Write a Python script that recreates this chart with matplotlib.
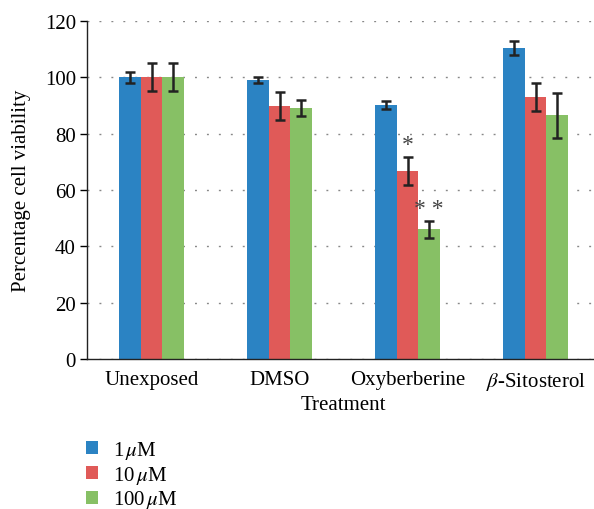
import matplotlib
matplotlib.use("Agg")
import matplotlib.pyplot as plt
from matplotlib.patches import Patch
import numpy as np

plt.rcParams['font.family'] = ['Liberation Serif', 'DejaVu Serif']
plt.rcParams['mathtext.fontset'] = 'stix'

categories = ["Unexposed", "DMSO", "Oxyberberine", r"$\beta$-Sitosterol"]
series_labels = [r"1$\,\mu$M", r"10$\,\mu$M", r"100$\,\mu$M"]
values_1uM = [100.0, 99.0, 90.2, 110.4]
values_10uM = [100.0, 89.8, 66.7, 93.0]
values_100uM = [100.0, 89.1, 46.1, 86.6]
err_1uM = [2.0, 1.0, 1.5, 2.4]
err_10uM = [5.0, 5.0, 5.0, 5.0]
err_100uM = [5.0, 3.0, 3.0, 8.0]
yticks = [0, 20, 40, 60, 80, 100, 120]
colors = ["#2b83c3", "#e05a58", "#87c065"]

FS = 15

fig = plt.figure(figsize=(5.94, 5.10), dpi=100)
ax = fig.add_axes([87/594, 1-360/510, 1-87/594, (360-22)/510])

x = np.arange(len(categories))
w = 0.168
vals = [values_1uM, values_10uM, values_100uM]
errs = [err_1uM, err_10uM, err_100uM]
for i, (v, e, c) in enumerate(zip(vals, errs, colors)):
    pos = x + (i - 1) * w
    ax.bar(pos, v, width=w, color=c, zorder=2)
    ax.errorbar(pos, v, yerr=e, fmt='none', ecolor='#222222', elinewidth=1.8,
                capsize=3.8, capthick=1.8, zorder=3)

# significance markers
ax.text(x[2], values_10uM[2] + err_10uM[2] + 0.6, "*", ha='center', va='bottom',
        fontsize=17, color='#444444')
ax.text(x[2] + w, values_100uM[2] + err_100uM[2] + 0.6, "* *", ha='center', va='bottom',
        fontsize=17, color='#444444')

ax.set_ylim(0, 120)
ax.set_xlim(-0.504, 3.457)
ax.set_yticks(yticks)
ax.set_xticks(x)
ax.set_xticklabels(categories, fontsize=FS)
ax.tick_params(axis='y', labelsize=FS, length=5, width=1, direction='out', pad=3)
ax.tick_params(axis='x', length=0, pad=8)
ax.yaxis.grid(True, linestyle=(0, (1.4, 7.2)), color='#888888', linewidth=1.0, zorder=0)
ax.set_axisbelow(True)
for s in ['top', 'right']:
    ax.spines[s].set_visible(False)
for s in ['left', 'bottom']:
    ax.spines[s].set_linewidth(1.0)
    ax.spines[s].set_color('#222222')

ax.set_ylabel("Percentage cell viability", fontsize=FS)
ax.yaxis.set_label_coords(-(87 - 22) / 507, 0.5)
ax.set_xlabel("Treatment", fontsize=FS)
ax.xaxis.set_label_coords((343 - 87) / 507, -(406 - 360) / 338)
ax.xaxis.label.set_va('center')
ax.yaxis.label.set_va('center')

handles = [Patch(facecolor=c, edgecolor='none') for c in colors]
fig.legend(handles, series_labels, loc='upper left', bbox_to_anchor=(86/594, 1 - 440/510),
           frameon=False, fontsize=FS, handlelength=0.58, handleheight=0.58,
           handletextpad=0.7, labelspacing=0.13, borderaxespad=0, borderpad=0)

fig.savefig("out.png", dpi=100)
